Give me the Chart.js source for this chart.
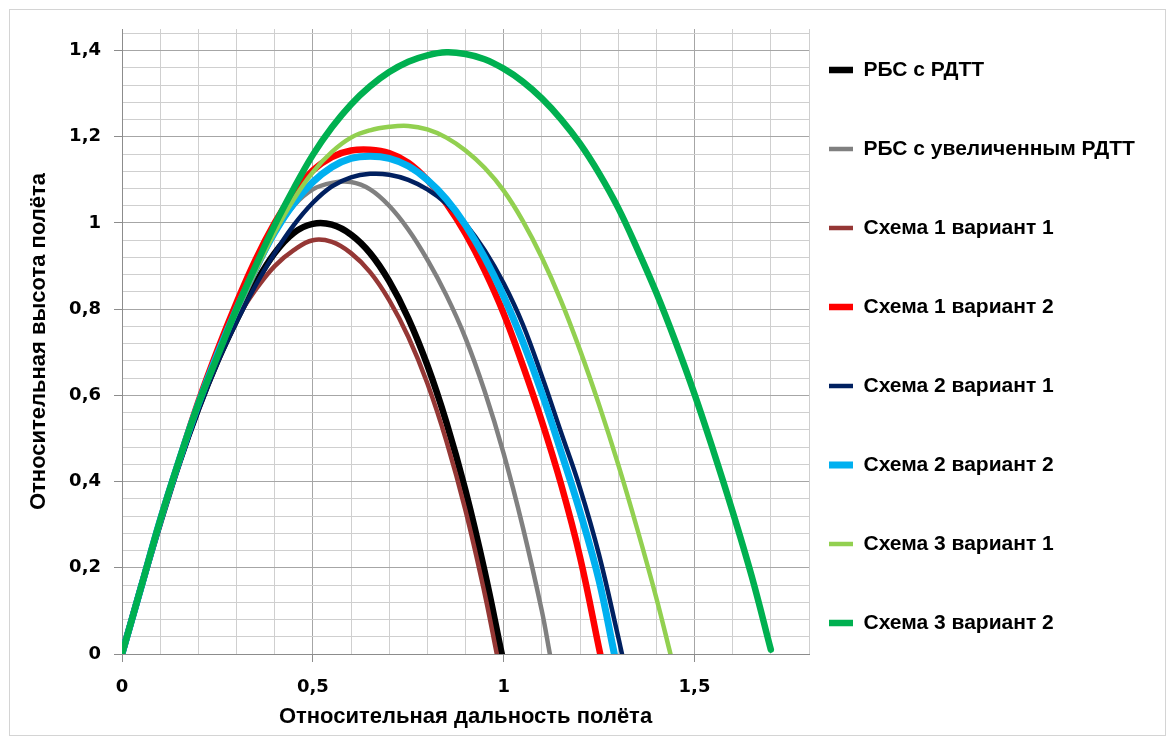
<!DOCTYPE html>
<html>
<head>
<meta charset="utf-8">
<script src="https://cdn.jsdelivr.net/npm/chart.js@4/dist/chart.umd.min.js"></script>
<style>
  html, body { margin: 0; padding: 0; background: #fff; }
  #wrap { position: relative; width: 1172px; height: 742px; }
  #frame { position: absolute; left: 9px; top: 9px; width: 1155px; height: 725px; border: 1px solid #d4d4d4; pointer-events: none; }
</style>
</head>
<body>
<div id="wrap">
  <canvas id="chart" width="1172" height="742"></canvas>
  <div id="frame"></div>
</div>
<script>
// series names (legend order)
const seriesNames = [
    "РБС с РДТТ",
    "РБС с увеличенным РДТТ",
    "Схема 1 вариант 1",
    "Схема 1 вариант 2",
    "Схема 2 вариант 1",
    "Схема 2 вариант 2",
    "Схема 3 вариант 1",
    "Схема 3 вариант 2"
];

// РБС с РДТТ
const rdttX = [0, 0.05, 0.1, 0.15, 0.2, 0.25, 0.3, 0.35, 0.4, 0.45, 0.5, 0.55, 0.6, 0.65, 0.7, 0.75, 0.8, 0.85, 0.9, 0.95, 0.995];
const rdttY = [0, 0.155, 0.305, 0.445, 0.57, 0.68, 0.775, 0.86, 0.93, 0.977, 0.998, 0.996, 0.973, 0.93, 0.865, 0.779, 0.67, 0.537, 0.379, 0.192, 0];

// РБС с увеличенным РДТТ
const bigRdttX = [0, 0.05, 0.1, 0.15, 0.2, 0.25, 0.3, 0.35, 0.4, 0.45, 0.5, 0.55, 0.6, 0.65, 0.7, 0.75, 0.8, 0.85, 0.9, 0.95, 1.0, 1.05, 1.1, 1.121];
const bigRdttY = [0, 0.155, 0.305, 0.445, 0.57, 0.685, 0.79, 0.885, 0.975, 1.04, 1.078, 1.093, 1.095, 1.078, 1.04, 0.985, 0.915, 0.832, 0.733, 0.61, 0.465, 0.295, 0.1, 0];

// Схема 1 вариант 1
const s1v1X = [0, 0.05, 0.1, 0.15, 0.2, 0.25, 0.3, 0.35, 0.4, 0.45, 0.5, 0.55, 0.6, 0.65, 0.7, 0.75, 0.8, 0.85, 0.9, 0.95, 0.982];
const s1v1Y = [0, 0.155, 0.305, 0.445, 0.57, 0.68, 0.775, 0.845, 0.9, 0.937, 0.96, 0.956, 0.93, 0.886, 0.821, 0.736, 0.628, 0.494, 0.333, 0.141, 0];

// Схема 1 вариант 2
const s1v2X = [0, 0.05, 0.1, 0.15, 0.2, 0.25, 0.3, 0.35, 0.4, 0.45, 0.5, 0.55, 0.6, 0.65, 0.7, 0.75, 0.8, 0.85, 0.9, 0.95, 1.0, 1.05, 1.1, 1.15, 1.2, 1.253];
const s1v2Y = [0, 0.155, 0.31, 0.45, 0.585, 0.705, 0.815, 0.915, 1.0, 1.07, 1.122, 1.153, 1.168, 1.17, 1.162, 1.14, 1.1, 1.045, 0.975, 0.89, 0.79, 0.67, 0.54, 0.395, 0.225, 0];

// Схема 2 вариант 1
const s2v1X = [0, 0.05, 0.1, 0.15, 0.2, 0.25, 0.3, 0.35, 0.4, 0.45, 0.5, 0.55, 0.6, 0.65, 0.7, 0.75, 0.8, 0.85, 0.9, 0.95, 1.0, 1.05, 1.1, 1.15, 1.2, 1.25, 1.3, 1.31];
const s2v1Y = [0, 0.155, 0.305, 0.44, 0.565, 0.675, 0.77, 0.855, 0.93, 0.995, 1.047, 1.085, 1.106, 1.114, 1.112, 1.1, 1.078, 1.045, 0.998, 0.937, 0.86, 0.765, 0.645, 0.515, 0.385, 0.23, 0.04, 0];

// Схема 2 вариант 2
const s2v2X = [0, 0.05, 0.1, 0.15, 0.2, 0.25, 0.3, 0.35, 0.4, 0.45, 0.5, 0.55, 0.6, 0.65, 0.7, 0.75, 0.8, 0.85, 0.9, 0.95, 1.0, 1.05, 1.1, 1.15, 1.2, 1.25, 1.29];
const s2v2Y = [0, 0.155, 0.31, 0.45, 0.58, 0.695, 0.8, 0.895, 0.978, 1.045, 1.095, 1.13, 1.15, 1.155, 1.15, 1.132, 1.1, 1.055, 0.995, 0.92, 0.83, 0.725, 0.605, 0.47, 0.33, 0.17, 0];

// Схема 3 вариант 1
const s3v1X = [0, 0.05, 0.1, 0.15, 0.2, 0.25, 0.3, 0.35, 0.4, 0.45, 0.5, 0.55, 0.6, 0.65, 0.7, 0.75, 0.8, 0.85, 0.9, 0.95, 1.0, 1.05, 1.1, 1.15, 1.2, 1.25, 1.3, 1.35, 1.4, 1.437];
const s3v1Y = [0, 0.155, 0.31, 0.45, 0.58, 0.69, 0.795, 0.89, 0.978, 1.055, 1.118, 1.165, 1.198, 1.215, 1.223, 1.225, 1.217, 1.198, 1.168, 1.128, 1.075, 1.005, 0.92, 0.82, 0.705, 0.578, 0.44, 0.29, 0.13, 0];

// Схема 3 вариант 2
const s3v2X = [0, 0.05, 0.1, 0.15, 0.2, 0.25, 0.3, 0.35, 0.4, 0.45, 0.5, 0.55, 0.6, 0.65, 0.7, 0.75, 0.8, 0.85, 0.9, 0.95, 1.0, 1.05, 1.1, 1.15, 1.2, 1.25, 1.3, 1.35, 1.4, 1.45, 1.5, 1.55, 1.6, 1.65, 1.7];
const s3v2Y = [0, 0.155, 0.31, 0.45, 0.58, 0.69, 0.8, 0.9, 0.995, 1.08, 1.158, 1.222, 1.275, 1.317, 1.35, 1.374, 1.389, 1.396, 1.392, 1.38, 1.358, 1.328, 1.289, 1.241, 1.184, 1.115, 1.035, 0.94, 0.838, 0.725, 0.603, 0.47, 0.33, 0.18, 0.01];

// labelled ticks
const xLabelTicks = [0, 0.5, 1, 1.5];
const yLabelTicks = [0, 0.2, 0.4, 0.6, 0.8, 1, 1.2, 1.4];

const seriesX = [rdttX, bigRdttX, s1v1X, s1v2X, s2v1X, s2v2X, s3v1X, s3v2X];
const seriesY = [rdttY, bigRdttY, s1v1Y, s1v2Y, s2v1Y, s2v2Y, s3v1Y, s3v2Y];
const colors = ["#000000", "#808080", "#953735", "#ff0000", "#002060", "#00b0f0", "#92d050", "#00b050"];
const widths = [6.5, 4.5, 4.5, 6.5, 4.5, 7, 4.5, 6.5];

const FONT = "'Liberation Sans', Arial, sans-serif";
const TICK_FONT = "'DejaVu Sans', sans-serif";

function isLabelled(list, v) {
    return list.some((t) => Math.abs(t - v) < 1e-6);
}
function fmt(v) {
    return String(Math.round(v * 100) / 100).replace(".", ",");
}

// pulls the legend in next to the plot, like the original
const legendPlace = {
    id: "legendPlace",
    afterLayout(chart) {
        const lg = chart.legend;
        const pad = lg.options.labels.padding;
        const fs = lg.options.labels.font.size;
        lg.left = 829 - pad;
        lg.right = chart.width;
        lg.width = lg.right - lg.left;
        lg.top = 70 - pad - fs / 2;
        lg.bottom = chart.height;
        lg.height = lg.bottom - lg.top;
    }
};

const datasets = seriesNames.map((name, i) => ({
    label: name,
    data: seriesX[i].map((x, j) => ({ x: x, y: seriesY[i][j] })),
    borderColor: colors[i],
    backgroundColor: colors[i],
    borderWidth: widths[i],
    borderCapStyle: "round",
    borderJoinStyle: "round",
    pointRadius: 0,
    tension: 0.4,
    fill: false,
    order: seriesNames.length - i
}));

const legendFontSize = 21;

new Chart(document.getElementById("chart"), {
    type: "line",
    data: { datasets: datasets },
    plugins: [legendPlace],
    options: {
        responsive: false,
        animation: false,
        layout: { padding: { left: 10, top: 29, bottom: 10, right: 10 } },
        plugins: {
            tooltip: { enabled: false },
            legend: {
                position: "right",
                align: "start",
                maxWidth: 353,
                labels: {
                    usePointStyle: true,
                    pointStyle: "line",
                    pointStyleWidth: 24,
                    boxHeight: legendFontSize,
                    padding: 79 - legendFontSize,
                    color: "#000",
                    font: { family: FONT, size: legendFontSize, weight: "bold" },
                    sort: (a, b) => a.datasetIndex - b.datasetIndex
                }
            }
        },
        scales: {
            x: {
                type: "linear",
                min: 0,
                max: 1.8,
                afterFit: (scale) => { scale.height = 78; },
                border: { color: "#8c8c8c", width: 1 },
                grid: {
                    color: (ctx) => ctx.tick && isLabelled(xLabelTicks, ctx.tick.value) ? "#a6a6a6" : "#cfcfcf",
                    tickColor: (ctx) => ctx.tick && isLabelled(xLabelTicks, ctx.tick.value) ? "#8c8c8c" : "rgba(0,0,0,0)",
                    tickLength: 8
                },
                ticks: {
                    stepSize: 0.1,
                    autoSkip: false,
                    maxRotation: 0,
                    padding: 15,
                    color: "#000",
                    font: { family: TICK_FONT, size: 18, weight: "bold" },
                    callback: (v) => isLabelled(xLabelTicks, v) ? fmt(v) : ""
                },
                title: {
                    display: true,
                    text: "Относительная дальность полёта",
                    color: "#000",
                    font: { family: FONT, size: 22, weight: "bold" },
                    padding: { top: 0, bottom: 2 }
                }
            },
            y: {
                type: "linear",
                min: 0,
                max: 1.45,
                afterFit: (scale) => { scale.width = 112; },
                border: { color: "#8c8c8c", width: 1 },
                grid: {
                    color: (ctx) => ctx.tick && isLabelled(yLabelTicks, ctx.tick.value) ? "#a6a6a6" : "#cfcfcf",
                    tickColor: (ctx) => ctx.tick && isLabelled(yLabelTicks, ctx.tick.value) ? "#8c8c8c" : "rgba(0,0,0,0)",
                    tickLength: 8
                },
                ticks: {
                    stepSize: 0.04,
                    includeBounds: false,
                    autoSkip: false,
                    padding: 13,
                    color: "#000",
                    font: { family: TICK_FONT, size: 18, weight: "bold" },
                    callback: (v) => isLabelled(yLabelTicks, v) ? fmt(v) : ""
                },
                title: {
                    display: true,
                    text: "Относительная высота полёта",
                    color: "#000",
                    font: { family: FONT, size: 22, weight: "bold" },
                    padding: { top: 16, bottom: 0 }
                }
            }
        }
    }
});
</script>
</body>
</html>
